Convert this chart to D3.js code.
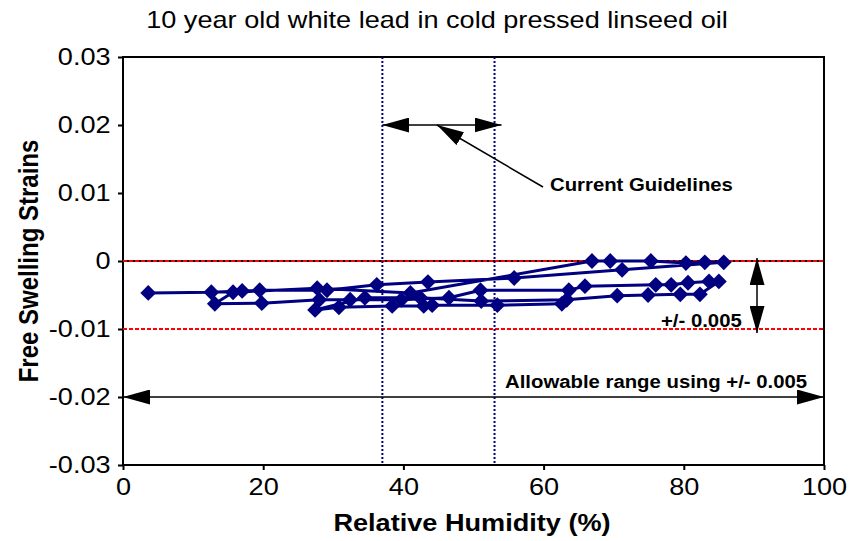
<!DOCTYPE html>
<html>
<head>
<meta charset="utf-8">
<script src="https://cdn.jsdelivr.net/npm/d3@7"></script>
<style>
  body { margin: 0; background: #fff; }
  text { font-family: "Liberation Sans", Arial, sans-serif; }
</style>
</head>
<body>
<script>
var width = 849, height = 541;
var margin = {top: 57, right: 25, bottom: 76, left: 123};
var stretch = 1.13; // source picture is widened a little

var titleText = '10 year old white lead in cold pressed linseed oil';
var xTicks = [0, 20, 40, 60, 80, 100];
var yTicks = [-0.03, -0.02, -0.01, 0, 0.01, 0.02, 0.03];

// measured sequence (relative humidity %, free swelling strain)
var rh     = [3.6, 12.6, 17, 19.5, 29.1, 36.2, 43.5, 55.8, 71.2, 85.7,
              83, 80.3, 75.3, 69.5, 66.9, 41, 27.7, 15.7,
              13.1, 19.8, 28, 32.4, 39.7, 46.5, 51, 63.6, 65.9, 76, 78.2, 80.6, 83.6, 85,
              82.3, 79.5, 74.9, 70.5, 63.3, 51.1, 42.4, 34.5, 27.4,
              30.8, 38.4, 42.9, 44.1, 53.4, 62.6];
var strain = [-0.0047, -0.0046, -0.0044, -0.0043, -0.0043, -0.0035, -0.0031, -0.0025, -0.0013, -0.0002,
              -0.0002, -0.0003, 0, 0, 0, -0.0047, -0.0040, -0.0046,
              -0.0063, -0.0062, -0.0057, -0.0057, -0.0057, -0.0054, -0.0043, -0.0043, -0.0037, -0.0035, -0.0035, -0.0032, -0.0030, -0.0030,
              -0.0049, -0.0049, -0.0050, -0.0051, -0.0057, -0.0059, -0.0054, -0.0054, -0.0072,
              -0.0068, -0.0066, -0.0066, -0.0065, -0.0065, -0.0063];

var guideRH = [37, 53];
var limits = [0, -0.01];

var points = rh.map(function(d, i){ return {x: d, y: strain[i]}; });

var svg = d3.select('body').append('svg')
  .attr('width', width)
  .attr('height', height);

var x = d3.scaleLinear().domain([0, 100]).range([margin.left, width - margin.right]);
var y = d3.scaleLinear().domain([-0.03, 0.03]).range([height - margin.bottom, margin.top]);

var defs = svg.append('defs');
defs.append('marker')
  .attr('id', 'arr')
  .attr('viewBox', '0 0 27 15')
  .attr('refX', 27).attr('refY', 7.5)
  .attr('markerWidth', 27).attr('markerHeight', 15)
  .attr('markerUnits', 'userSpaceOnUse')
  .attr('orient', 'auto-start-reverse')
  .append('path').attr('d', 'M0,0 L27,7.5 L0,15 Z').attr('fill', '#000');

function label(px, py, txt, size, bold, anchor){
  return svg.append('text')
    .attr('transform', 'translate(' + px + ',' + py + ') scale(' + stretch + ',1)')
    .attr('text-anchor', anchor || 'start')
    .style('font-size', size + 'px')
    .style('font-weight', bold ? 'bold' : 'normal')
    .text(txt);
}

// title
label(437, 28, titleText, 24, false, 'middle');

// axes
var yAxis = d3.axisLeft(y).tickValues(yTicks).tickSize(5).tickPadding(6)
  .tickFormat(function(d){ return d === 0 ? '0' : d.toFixed(2); });
var xAxis = d3.axisBottom(x).tickValues(xTicks).tickSize(5).tickPadding(8);

function styleAxis(g){
  g.select('.domain').remove();
  g.selectAll('line').attr('stroke-width', 2);
  g.selectAll('text')
    .style('font-size', '24px')
    .style('font-family', '"Liberation Sans", Arial, sans-serif')
    .attr('fill', '#000')
    .attr('transform', 'scale(' + stretch + ',1)');
}

svg.append('g').attr('transform', 'translate(' + margin.left + ',0)').call(yAxis).call(styleAxis);
svg.append('g').attr('transform', 'translate(0,' + (height - margin.bottom) + ')').call(xAxis).call(styleAxis);

// frame
svg.append('rect')
  .attr('x', x(0)).attr('y', y(0.03))
  .attr('width', x(100) - x(0)).attr('height', y(-0.03) - y(0.03))
  .attr('fill', 'none').attr('stroke', '#000').attr('stroke-width', 2);

// zero line and limits
svg.append('line')
  .attr('x1', x(0)).attr('x2', x(100)).attr('y1', y(0)).attr('y2', y(0))
  .attr('stroke', '#000').attr('stroke-width', 2);
svg.selectAll('.limit').data(limits).enter().append('line')
  .attr('class', 'limit')
  .attr('x1', x(0)).attr('x2', x(100))
  .attr('y1', function(d){ return y(d); }).attr('y2', function(d){ return y(d); })
  .attr('stroke', '#ff0000').attr('stroke-width', 2).attr('stroke-dasharray', '4,2');

// guideline verticals
svg.selectAll('.guide').data(guideRH).enter().append('line')
  .attr('class', 'guide')
  .attr('x1', function(d){ return x(d); }).attr('x2', function(d){ return x(d); })
  .attr('y1', y(0.03)).attr('y2', y(-0.03))
  .attr('stroke', '#000080').attr('stroke-width', 2).attr('stroke-dasharray', '2,2');

// data
var line = d3.line().x(function(d){ return x(d.x); }).y(function(d){ return y(d.y); });
svg.append('path').datum(points)
  .attr('d', line)
  .attr('fill', 'none').attr('stroke', '#000080').attr('stroke-width', 3)
  .attr('stroke-linejoin', 'round');

svg.selectAll('.pt').data(points).enter().append('path')
  .attr('class', 'pt')
  .attr('d', d3.symbol().type(d3.symbolSquare).size(125))
  .attr('transform', function(d){ return 'translate(' + x(d.x) + ',' + y(d.y) + ') rotate(45)'; })
  .attr('fill', '#000080');

// annotations
svg.append('line')
  .attr('x1', x(guideRH[0])).attr('x2', x(guideRH[1]) + 7)
  .attr('y1', y(0.02)).attr('y2', y(0.02))
  .attr('stroke', '#000').attr('stroke-width', 1.5)
  .attr('marker-start', 'url(#arr)').attr('marker-end', 'url(#arr)');

svg.append('line')
  .attr('x1', 543).attr('y1', 187).attr('x2', 437).attr('y2', y(0.02))
  .attr('stroke', '#000').attr('stroke-width', 1.5)
  .attr('marker-end', 'url(#arr)');

label(550, 191, 'Current Guidelines', 18, true);

svg.append('line')
  .attr('x1', 757).attr('x2', 757).attr('y1', y(0) - 3).attr('y2', y(-0.01) + 4)
  .attr('stroke', '#000').attr('stroke-width', 1.5)
  .attr('marker-start', 'url(#arr)').attr('marker-end', 'url(#arr)');

label(661, 327, '+/- 0.005', 18, true);

svg.append('line')
  .attr('x1', x(0)).attr('x2', x(100))
  .attr('y1', y(-0.02)).attr('y2', y(-0.02))
  .attr('stroke', '#000').attr('stroke-width', 1.5)
  .attr('marker-start', 'url(#arr)').attr('marker-end', 'url(#arr)');

label(505, 388, 'Allowable range using +/- 0.005', 18, true);

// axis titles
label(472, 531, 'Relative Humidity (%)', 24, true, 'middle');

svg.append('text')
  .attr('transform', 'translate(38,' + y(0) + ') scale(' + stretch + ',1) rotate(-90)')
  .attr('text-anchor', 'middle')
  .style('font-size', '24px').style('font-weight', 'bold')
  .text('Free Swelling Strains');
</script>
</body>
</html>
